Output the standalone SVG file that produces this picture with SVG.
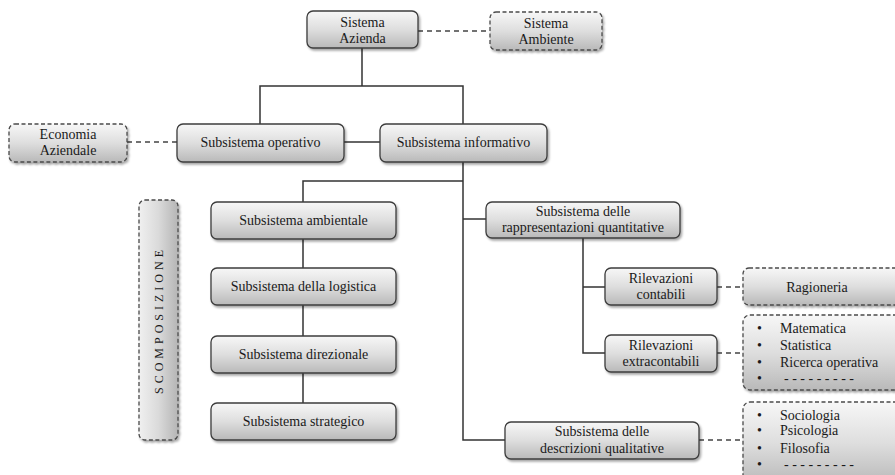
<svg xmlns="http://www.w3.org/2000/svg" width="895" height="475" viewBox="0 0 895 475" font-family="'Liberation Serif', 'Times New Roman', 'DejaVu Serif', serif">
<defs>
<linearGradient id="g" x1="0" y1="0" x2="0" y2="1">
<stop offset="0" stop-color="#f7f7f7"/>
<stop offset="0.5" stop-color="#dedede"/>
<stop offset="1" stop-color="#b9b9b9"/>
</linearGradient>
<linearGradient id="gh" x1="0" y1="0" x2="1" y2="0">
<stop offset="0" stop-color="#f0f0f0"/>
<stop offset="0.5" stop-color="#dadada"/>
<stop offset="1" stop-color="#b5b5b5"/>
</linearGradient>
<filter id="sh" x="-10%" y="-20%" width="130%" height="150%">
<feDropShadow dx="1.5" dy="2" stdDeviation="1.2" flood-color="#000" flood-opacity="0.35"/>
</filter>
</defs>
<style>
.box{fill:url(#g);stroke:#3c3c3c;stroke-width:1.3;filter:url(#sh)}
.dbox{fill:url(#g);stroke:#4a4a4a;stroke-width:1.3;stroke-dasharray:4,2.5;filter:url(#sh)}
text{font-family:'Liberation Serif','Times New Roman','DejaVu Serif',serif;font-size:14px;fill:#1a1a1a}
.t{text-anchor:middle}
.c{fill:none;stroke:#333;stroke-width:1.5}
.d{fill:none;stroke:#444;stroke-width:1.5;stroke-dasharray:5,4}
</style>
<rect width="895" height="475" fill="#fff"/>
<g id="connectors">
<path class="c" d="M362 48 V86 M260 124 V86 H463 V124"/>
<path class="c" d="M344 142 H380"/>
<path class="c" d="M463 162 V440 H505"/>
<path class="c" d="M463 181 H303 V202 M303 239 V268 M303 305 V336 M303 373 V403"/>
<path class="c" d="M463 219 H486"/>
<path class="c" d="M583 238 V353 H605 M583 287 H605"/>
<path class="d" d="M418 31 H490"/>
<path class="d" d="M127 142 H177"/>
<path class="d" d="M717 287 H743"/>
<path class="d" d="M717 353 H743"/>
<path class="d" d="M699 440 H743"/>
</g>
<g id="sistema-azienda">
<rect class="box" x="307" y="11" width="111" height="37" rx="6"/>
<text class="t" x="362.5" y="27">Sistema</text>
<text class="t" x="362.5" y="43">Azienda</text>
</g>
<g id="sistema-ambiente">
<rect class="dbox" x="490" y="12" width="112" height="38" rx="6"/>
<text class="t" x="546" y="28">Sistema</text>
<text class="t" x="546" y="44">Ambiente</text>
</g>
<g id="economia-aziendale">
<rect class="dbox" x="9" y="124" width="118" height="38" rx="6"/>
<text class="t" x="68" y="139">Economia</text>
<text class="t" x="68" y="155">Aziendale</text>
</g>
<g id="subsistema-operativo">
<rect class="box" x="177" y="124" width="167" height="38" rx="6"/>
<text class="t" x="260.5" y="147">Subsistema operativo</text>
</g>
<g id="subsistema-informativo">
<rect class="box" x="380" y="124" width="167" height="38" rx="6"/>
<text class="t" x="463.5" y="147">Subsistema informativo</text>
</g>
<g id="scomposizione">
<rect class="dbox" x="139" y="200" width="39" height="240" rx="6" style="fill:url(#gh)"/>
<text class="t" transform="translate(163 320) rotate(-90)" style="font-size:12px;letter-spacing:4px">SCOMPOSIZIONE</text>
</g>
<g id="subsistema-ambientale">
<rect class="box" x="211" y="202" width="185" height="37" rx="6"/>
<text class="t" x="303.5" y="225">Subsistema ambientale</text>
</g>
<g id="subsistema-logistica">
<rect class="box" x="211" y="268" width="185" height="37" rx="6"/>
<text class="t" x="303.5" y="291">Subsistema della logistica</text>
</g>
<g id="subsistema-direzionale">
<rect class="box" x="211" y="336" width="185" height="37" rx="6"/>
<text class="t" x="303.5" y="359">Subsistema direzionale</text>
</g>
<g id="subsistema-strategico">
<rect class="box" x="211" y="403" width="185" height="37" rx="6"/>
<text class="t" x="303.5" y="426">Subsistema strategico</text>
</g>
<g id="subsistema-rappresentazioni">
<rect class="box" x="486" y="202" width="194" height="36" rx="6"/>
<text class="t" x="583" y="216">Subsistema delle</text>
<text class="t" x="583" y="232">rappresentazioni quantitative</text>
</g>
<g id="rilevazioni-contabili">
<rect class="box" x="605" y="268" width="112" height="37" rx="6"/>
<text class="t" x="661" y="283">Rilevazioni</text>
<text class="t" x="661" y="299">contabili</text>
</g>
<g id="rilevazioni-extracontabili">
<rect class="box" x="605" y="335" width="112" height="37" rx="6"/>
<text class="t" x="661" y="350">Rilevazioni</text>
<text class="t" x="661" y="366">extracontabili</text>
</g>
<g id="ragioneria">
<rect class="dbox" x="743" y="268" width="162" height="37" rx="6"/>
<text class="t" x="817" y="292">Ragioneria</text>
</g>
<g id="discipline-quantitative">
<rect class="dbox" x="743" y="315" width="162" height="75" rx="7"/>
<text x="757" y="333">•</text><text x="780" y="333">Matematica</text>
<text x="757" y="350">•</text><text x="780" y="350">Statistica</text>
<text x="757" y="367">•</text><text x="780" y="367">Ricerca operativa</text>
<text x="757" y="383">•</text><text x="784" y="383">- - - - - - - - -</text>
</g>
<g id="subsistema-descrizioni">
<rect class="box" x="505" y="422" width="194" height="37" rx="6"/>
<text class="t" x="602" y="436">Subsistema delle</text>
<text class="t" x="602" y="453">descrizioni qualitative</text>
</g>
<g id="discipline-qualitative">
<rect class="dbox" x="743" y="402" width="162" height="82" rx="7"/>
<text x="757" y="420">•</text><text x="780" y="420">Sociologia</text>
<text x="757" y="435">•</text><text x="780" y="435">Psicologia</text>
<text x="757" y="453">•</text><text x="780" y="453">Filosofia</text>
<text x="757" y="469">•</text><text x="784" y="469">- - - - - - - - -</text>
</g>
</svg>
